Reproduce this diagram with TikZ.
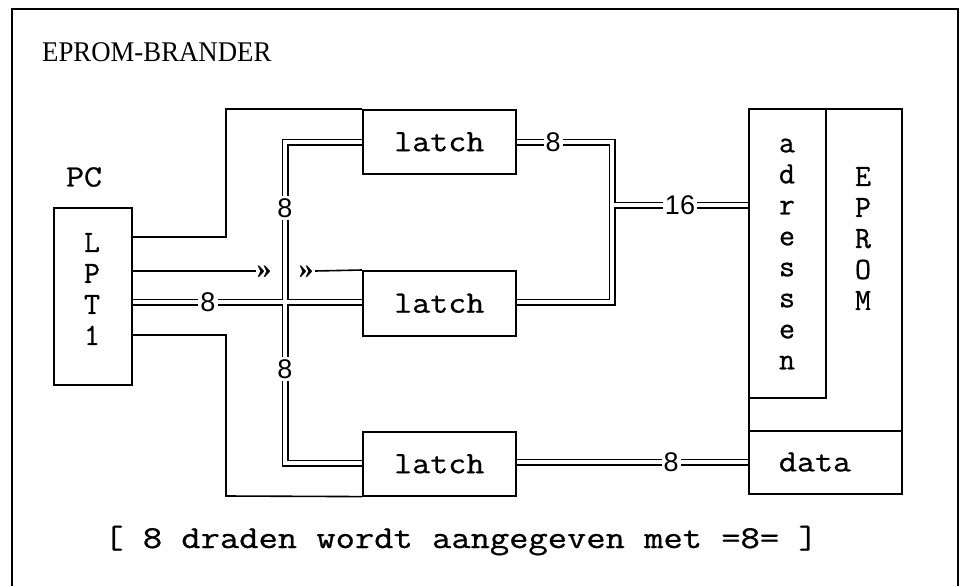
\documentclass[tikz,border=0pt]{standalone}
\usepackage{fontspec}
\setmainfont{Liberation Serif}
\setsansfont{Liberation Sans}
\setmonofont{Latin Modern Mono}[FakeBold=0.7]
% typewriter words set a little wider
\newcommand{\widetype}[2][1.13]{\scalebox{#1}[1]{#2}}
\begin{document}
\begin{tikzpicture}[x=1pt,y=-1pt,
  box/.style={draw, line width=1.6pt, inner sep=0pt, anchor=north west},
  wire/.style={line width=1.6pt},
  bus/.style={line width=1.6pt, double=white, double distance=3.8pt},
  mono/.style={inner sep=0pt, font=\ttfamily\fontsize{31}{31}\selectfont},
  stack/.style={inner sep=0pt, align=center, font=\ttfamily\fontsize{31}{31}\selectfont},
  lab/.style={fill=white, inner sep=2pt, font=\sffamily\fontsize{27}{27}\selectfont},
  jump/.style={inner sep=0pt, font=\rmfamily\bfseries\fontsize{30}{30}\selectfont}]
\useasboundingbox (0,0) rectangle (965,586);

% outer frame (open at the bottom)
\draw[line width=1.4pt] (12,586) -- (12,9) -- (958,9) -- (958,586);

% title
\node[anchor=base west, inner sep=0pt, font=\rmfamily\fontsize{28.5}{28.5}\selectfont] (title) at (42,62) {\scalebox{0.94}[1]{EPROM-BRANDER}};

% PC with its printer port
\node[mono] (pc) at (84,177) {\widetype{PC}};
\node[box, minimum width=78pt, minimum height=177pt] (lpt) at (53,207) {};
\node[stack] (lpttext) at (92,289) {L\\P\\T\\1};

% three latches
\node[box, mono, minimum width=153pt, minimum height=64pt] (latch1) at (362,109) {\widetype{latch}};
\node[box, mono, minimum width=153pt, minimum height=65pt] (latch2) at (362,270) {\widetype{latch}};
\node[box, mono, minimum width=153pt, minimum height=64pt] (latch3) at (362,431) {\widetype{latch}};

% EPROM with address and data sections
\node[box, minimum width=153pt, minimum height=385pt] (eprom) at (748,108) {};
\node[box, minimum width=77pt, minimum height=289pt] (adr) at (748,108) {};
\node[box, minimum width=153pt, minimum height=63pt] (data) at (748,430) {};
\node[stack] (adrtext) at (787,254) {a\\d\\r\\e\\s\\s\\e\\n};
\node[stack] (epromtext) at (863,238.5) {E\\P\\R\\O\\M};
\node[mono] (datatext) at (815,462) {\widetype{data}};

% single control wires
\draw[wire] (lpt.east |- 0,237) -| (226,109) -- (latch1.north west);
\coordinate (jl) at (256,271);
\coordinate (jr) at (315,271);
\draw[wire] (lpt.east |- 0,271) -- (jl);
\node[jump] (jumpl) at (264,272) {»};
\node[jump] (jumpr) at (306,272) {»};
\draw[wire] (jr) -- (latch2.north west);
\draw[wire] (lpt.east |- 0,335) -| (226,496) -- (latch3.south west);

% 8-bit data bus from the port to the latches
\draw[bus] (latch1.west |- 0,142) -| (285,463) -- (latch3.west |- 0,463)
           (lpt.east |- 0,302) -- (latch2.west |- 0,302);
% 16-bit address bus to the EPROM
\draw[bus] (latch1.east |- 0,142) -| (612,302) -- (latch2.east |- 0,302)
           (612,205) -- (adr.west |- 0,205);
% 8-bit data bus to the EPROM
\draw[bus] (latch3.east |- 0,462) -- (data.west |- 0,462);

% bus widths
\node[lab] (w1) at (285,208) {8};
\node[lab] (w2) at (285,369) {8};
\node[lab] (w3) at (208,302) {8};
\node[lab] (w4) at (553,142) {8};
\node[lab] (w5) at (680,205) {16};
\node[lab] (w6) at (671,462) {8};

% legend
\node[anchor=base, inner sep=0pt, font=\ttfamily\fontsize{32}{32}\selectfont] (legend) at (461,548) {\widetype[1.17]{[ 8 draden wordt aangegeven met =8= ]}};
\end{tikzpicture}
\end{document}
